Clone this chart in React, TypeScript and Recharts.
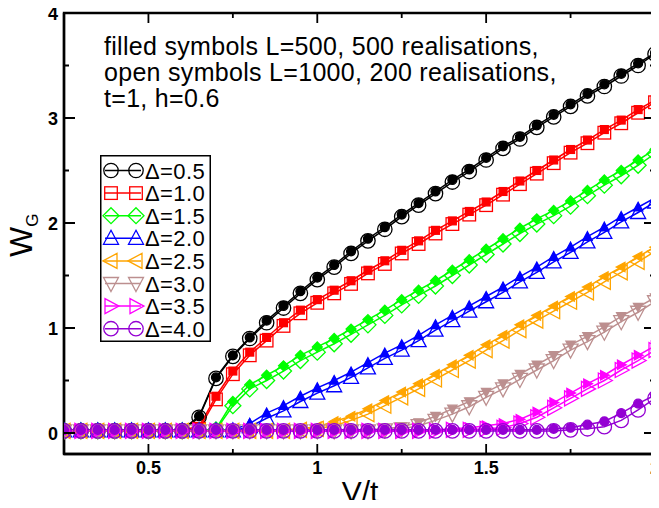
import React from 'react';
import { Customized, Legend, Line, LineChart, ReferenceArea, XAxis, YAxis } from 'recharts';

// V/t grid
const vt = [
  0.25, 0.3, 0.35, 0.4, 0.45, 0.5, 0.55, 0.6, 0.65, 0.7, 0.75, 0.8, 0.85, 0.9, 0.95, 1.0, 1.05, 1.1,
  1.15, 1.2, 1.25, 1.3, 1.35, 1.4, 1.45, 1.5, 1.55, 1.6, 1.65, 1.7, 1.75, 1.8, 1.85, 1.9, 1.95, 2.0,
];

// filled symbols: L=500 ; open symbols: L=1000
const d05Filled = [
  0.02, 0.02, 0.02, 0.02, 0.02, 0.02, 0.02, 0.03, 0.16, 0.53, 0.74, 0.91, 1.07, 1.21, 1.35, 1.48, 1.6, 1.73,
  1.85, 1.96, 2.08, 2.19, 2.3, 2.41, 2.51, 2.62, 2.73, 2.82, 2.93, 3.03, 3.13, 3.23, 3.32, 3.42, 3.52, 3.62,
];
const d05Open = [
  0.02, 0.02, 0.02, 0.02, 0.02, 0.02, 0.02, 0.02, 0.15, 0.52, 0.73, 0.9, 1.05, 1.19, 1.33, 1.46, 1.58, 1.71,
  1.83, 1.94, 2.06, 2.17, 2.28, 2.39, 2.49, 2.6, 2.71, 2.8, 2.91, 3.01, 3.11, 3.21, 3.3, 3.4, 3.5, 3.61,
];
const d10Filled = [
  0.02, 0.02, 0.02, 0.02, 0.02, 0.02, 0.02, 0.03, 0.06, 0.35, 0.59, 0.77, 0.91, 1.05, 1.17, 1.27, 1.36, 1.45,
  1.55, 1.64, 1.74, 1.83, 1.93, 2.02, 2.11, 2.2, 2.3, 2.4, 2.5, 2.6, 2.7, 2.79, 2.89, 2.98, 3.08, 3.17,
];
const d10Open = [
  0.02, 0.02, 0.02, 0.02, 0.02, 0.02, 0.02, 0.02, 0.04, 0.32, 0.56, 0.74, 0.88, 1.02, 1.14, 1.24, 1.33, 1.42,
  1.52, 1.61, 1.71, 1.8, 1.9, 1.99, 2.08, 2.17, 2.27, 2.37, 2.47, 2.57, 2.67, 2.76, 2.86, 2.95, 3.05, 3.15,
];
const d15Filled = [
  0.02, 0.02, 0.02, 0.02, 0.02, 0.02, 0.02, 0.02, 0.02, 0.04, 0.3, 0.46, 0.55, 0.64, 0.74, 0.82, 0.9, 0.99,
  1.08, 1.17, 1.27, 1.36, 1.45, 1.55, 1.65, 1.75, 1.85, 1.95, 2.04, 2.12, 2.21, 2.31, 2.41, 2.5, 2.6, 2.7,
];
const d15Open = [
  0.02, 0.02, 0.02, 0.02, 0.02, 0.02, 0.02, 0.02, 0.02, 0.03, 0.26, 0.42, 0.5, 0.59, 0.69, 0.77, 0.85, 0.94,
  1.03, 1.12, 1.22, 1.31, 1.4, 1.5, 1.6, 1.7, 1.8, 1.9, 1.99, 2.07, 2.16, 2.26, 2.36, 2.45, 2.55, 2.66,
];
const d20Filled = [
  0.02, 0.02, 0.02, 0.02, 0.02, 0.02, 0.02, 0.02, 0.02, 0.02, 0.03, 0.09, 0.19, 0.26, 0.35, 0.43, 0.5, 0.58,
  0.67, 0.76, 0.84, 0.93, 1.03, 1.12, 1.21, 1.3, 1.39, 1.49, 1.58, 1.68, 1.77, 1.87, 1.96, 2.06, 2.15, 2.24,
];
const d20Open = [
  0.02, 0.02, 0.02, 0.02, 0.02, 0.02, 0.02, 0.02, 0.02, 0.02, 0.02, 0.06, 0.14, 0.21, 0.3, 0.38, 0.45, 0.53,
  0.62, 0.71, 0.79, 0.88, 0.98, 1.07, 1.16, 1.25, 1.34, 1.44, 1.53, 1.63, 1.72, 1.82, 1.91, 2.01, 2.1, 2.2,
];
const d25Filled = [
  0.02, 0.02, 0.02, 0.02, 0.02, 0.02, 0.02, 0.02, 0.02, 0.02, 0.02, 0.02, 0.02, 0.03, 0.04, 0.06, 0.11, 0.16,
  0.23, 0.31, 0.39, 0.47, 0.56, 0.65, 0.74, 0.84, 0.93, 1.03, 1.12, 1.21, 1.3, 1.39, 1.49, 1.58, 1.68, 1.77,
];
const d25Open = [
  0.02, 0.02, 0.02, 0.02, 0.02, 0.02, 0.02, 0.02, 0.02, 0.02, 0.02, 0.02, 0.02, 0.02, 0.03, 0.04, 0.07, 0.12,
  0.18, 0.26, 0.34, 0.42, 0.51, 0.6, 0.69, 0.79, 0.88, 0.98, 1.07, 1.16, 1.25, 1.34, 1.44, 1.53, 1.63, 1.73,
];
const d30Filled = [
  0.02, 0.02, 0.02, 0.02, 0.02, 0.02, 0.02, 0.02, 0.02, 0.02, 0.02, 0.02, 0.02, 0.02, 0.02, 0.02, 0.02, 0.02,
  0.03, 0.04, 0.06, 0.1, 0.16, 0.23, 0.3, 0.39, 0.47, 0.56, 0.65, 0.74, 0.84, 0.92, 1.01, 1.11, 1.2, 1.29,
];
const d30Open = [
  0.02, 0.02, 0.02, 0.02, 0.02, 0.02, 0.02, 0.02, 0.02, 0.02, 0.02, 0.02, 0.02, 0.02, 0.02, 0.02, 0.02, 0.02,
  0.02, 0.03, 0.04, 0.07, 0.12, 0.18, 0.25, 0.34, 0.42, 0.51, 0.6, 0.69, 0.79, 0.87, 0.96, 1.06, 1.15, 1.25,
];
const d35Filled = [
  0.02, 0.02, 0.02, 0.02, 0.02, 0.02, 0.02, 0.02, 0.02, 0.02, 0.02, 0.02, 0.02, 0.02, 0.02, 0.02, 0.02, 0.02,
  0.02, 0.02, 0.02, 0.02, 0.03, 0.04, 0.05, 0.07, 0.09, 0.13, 0.2, 0.29, 0.38, 0.47, 0.55, 0.65, 0.74, 0.83,
];
const d35Open = [
  0.02, 0.02, 0.02, 0.02, 0.02, 0.02, 0.02, 0.02, 0.02, 0.02, 0.02, 0.02, 0.02, 0.02, 0.02, 0.02, 0.02, 0.02,
  0.02, 0.02, 0.02, 0.02, 0.02, 0.03, 0.03, 0.04, 0.05, 0.09, 0.15, 0.24, 0.33, 0.42, 0.5, 0.6, 0.69, 0.79,
];
const d40Filled = [
  0.03, 0.03, 0.03, 0.03, 0.03, 0.03, 0.03, 0.03, 0.03, 0.03, 0.03, 0.03, 0.03, 0.03, 0.03, 0.03, 0.03, 0.03,
  0.03, 0.03, 0.03, 0.03, 0.03, 0.03, 0.03, 0.03, 0.03, 0.03, 0.03, 0.04, 0.05, 0.08, 0.11, 0.19, 0.28, 0.36,
];
const d40Open = [
  0.02, 0.02, 0.02, 0.02, 0.02, 0.02, 0.02, 0.02, 0.02, 0.02, 0.02, 0.02, 0.02, 0.02, 0.02, 0.02, 0.02, 0.02,
  0.02, 0.02, 0.02, 0.02, 0.02, 0.02, 0.02, 0.02, 0.02, 0.02, 0.02, 0.02, 0.03, 0.04, 0.06, 0.12, 0.22, 0.33,
];

const xTicks = [0.5, 0.75, 1, 1.25, 1.5, 1.75, 2];
const xMajor = [0.5, 1, 1.5, 2];
const yTicks = [0, 0.5, 1, 1.5, 2, 2.5, 3, 3.5, 4];
const yMajor = [0, 1, 2, 3, 4];

const notes = ['filled symbols L=500, 500 realisations,', 'open symbols L=1000, 200 realisations,', 't=1, h=0.6'];

type Shape = 'circle' | 'square' | 'diamond' | 'up' | 'left' | 'down' | 'right';

const series: { id: string; label: string; color: string; shape: Shape; filled: number[]; open: number[] }[] = [
  { id: 'd05', label: 'Δ=0.5', color: '#000000', shape: 'circle', filled: d05Filled, open: d05Open },
  { id: 'd10', label: 'Δ=1.0', color: '#ff0000', shape: 'square', filled: d10Filled, open: d10Open },
  { id: 'd15', label: 'Δ=1.5', color: '#00ff00', shape: 'diamond', filled: d15Filled, open: d15Open },
  { id: 'd20', label: 'Δ=2.0', color: '#0000ff', shape: 'up', filled: d20Filled, open: d20Open },
  { id: 'd25', label: 'Δ=2.5', color: '#ffa500', shape: 'left', filled: d25Filled, open: d25Open },
  { id: 'd30', label: 'Δ=3.0', color: '#bc8f8f', shape: 'down', filled: d30Filled, open: d30Open },
  { id: 'd35', label: 'Δ=3.5', color: '#ff00ff', shape: 'right', filled: d35Filled, open: d35Open },
  { id: 'd40', label: 'Δ=4.0', color: '#9400d3', shape: 'circle', filled: d40Filled, open: d40Open },
];

const data = vt.map((v, i) => {
  const row: Record<string, number> = { vt: v };
  series.forEach((s) => {
    row[`${s.id}f`] = s.filled[i];
    row[`${s.id}o`] = s.open[i];
  });
  return row;
});

const FONT = '"Liberation Sans", Arial, sans-serif';
// plot frame (chart pixels)
const PLOT_TOP = 13;
const PLOT_RIGHT = 655;

const Marker = ({ shape, cx, cy, color, filled }: { shape: Shape; cx: number; cy: number; color: string; filled: boolean }) => {
  const s = filled ? 0.62 : 1;
  const p = { stroke: color, strokeWidth: 1.3, fill: filled ? color : 'none' };
  const pts = (arr: number[][]) => arr.map(([dx, dy]) => `${cx + dx * s},${cy + dy * s}`).join(' ');
  switch (shape) {
    case 'circle':
      return <circle cx={cx} cy={cy} r={7.2 * s} {...p} />;
    case 'square':
      return <rect x={cx - 6.3 * s} y={cy - 6.3 * s} width={12.6 * s} height={12.6 * s} {...p} />;
    case 'diamond':
      return <polygon points={pts([[0, -8], [8, 0], [0, 8], [-8, 0]])} {...p} />;
    case 'up':
      return <polygon points={pts([[0, -8], [7.5, 6], [-7.5, 6]])} {...p} />;
    case 'down':
      return <polygon points={pts([[0, 8], [7.5, -6], [-7.5, -6]])} {...p} />;
    case 'left':
      return <polygon points={pts([[-8, 0], [6, -7.5], [6, 7.5]])} {...p} />;
    case 'right':
    default:
      return <polygon points={pts([[8, 0], [-6, -7.5], [-6, 7.5]])} {...p} />;
  }
};

const makeDot = (shape: Shape, color: string, filled: boolean) => (props: any) => {
  const { cx, cy, index } = props;
  if (cx == null || cy == null) return <g key={index} />;
  return <Marker key={index} shape={shape} cx={cx} cy={cy} color={color} filled={filled} />;
};

const isIn = (list: number[], v: number) => list.some((m) => Math.abs(m - v) < 1e-6);

// bottom ticks (inward), mirrored on the top edge
const BottomTick = ({ x, y, payload }: any) => {
  const major = isIn(xMajor, payload.value);
  const len = major ? 10 : 5;
  const cx = Number(x);
  const base = Number(y);
  return (
    <g>
      <path d={`M${cx},${base}V${base - len}M${cx},${PLOT_TOP}V${PLOT_TOP + len}`} stroke="#000" strokeWidth={1.8} fill="none" />
      {major && (
        <text x={cx} y={base + 20} textAnchor="middle" fontSize={18} fontWeight="bold" fontFamily={FONT} fill="#000">
          {String(payload.value)}
        </text>
      )}
    </g>
  );
};

// left ticks (inward), mirrored on the right edge
const LeftTick = ({ x, y, payload }: any) => {
  const major = isIn(yMajor, payload.value);
  const cy = Number(y);
  const base = Number(x);
  const len = major ? 11 : 5;
  return (
    <g>
      <path d={`M${base},${cy}H${base + len}M${PLOT_RIGHT},${cy}H${PLOT_RIGHT - len}`} stroke="#000" strokeWidth={1.8} fill="none" />
      {major && (
        <text x={base - 6} y={cy + 6.5} textAnchor="end" fontSize={18} fontWeight="bold" fontFamily={FONT} fill="#000">
          {String(payload.value)}
        </text>
      )}
    </g>
  );
};

const Notes = () => (
  <g>
    {notes.map((t, i) => (
      <text key={t} x={104} y={55 + i * 26} fontSize={25} letterSpacing={0.3} fontFamily={FONT} fill="#000">
        {t}
      </text>
    ))}
  </g>
);

const LegendBox = () => (
  <svg width={111} height={187} style={{ display: 'block' }}>
    <rect x={0.75} y={0.75} width={109.5} height={185.5} fill="#fff" stroke="#000" strokeWidth={1.5} />
    {series.map((s, i) => {
      const cy = 15.5 + i * 22.6;
      return (
        <g key={s.id}>
          <line x1={5} y1={cy} x2={41} y2={cy} stroke={s.color} strokeWidth={1.5} />
          <Marker shape={s.shape} cx={11} cy={cy} color={s.color} filled={false} />
          <Marker shape={s.shape} cx={36} cy={cy} color={s.color} filled={false} />
          <text x={45} y={cy + 8} fontSize={22} letterSpacing={0.4} fontFamily={FONT} fill="#000">
            {s.label}
          </text>
        </g>
      );
    })}
  </svg>
);

export default function App() {
  return (
    <div style={{ width: 659, height: 508, margin: '-8px 0 -8px -8px', position: 'relative' }}>
      <LineChart width={659} height={508} data={data} margin={{ top: 13, right: 4, bottom: 0, left: 0 }}>
        <XAxis
          dataKey="vt"
          type="number"
          domain={[0.25, 2]}
          ticks={xTicks}
          interval={0}
          allowDataOverflow
          height={54}
          tickLine={false}
          tickSize={0}
          tickMargin={0}
          axisLine={{ stroke: '#000', strokeWidth: 2.4 }}
          tick={BottomTick}
          label={{
            content: () => (
              <text x={360} y={502} textAnchor="middle" fontSize={30} fontFamily={FONT} fill="#000">
                V/t
              </text>
            ),
          }}
        />
        <YAxis
          type="number"
          domain={[-0.2, 4]}
          ticks={yTicks}
          interval={0}
          allowDataOverflow
          width={64}
          tickLine={false}
          tickSize={0}
          tickMargin={0}
          axisLine={{ stroke: '#000', strokeWidth: 2.4 }}
          tick={LeftTick}
          label={{
            content: () => (
              <text x={32} y={257} transform="rotate(-90, 32, 257)" fontSize={32} fontFamily={FONT} fill="#000">
                W
                <tspan fontSize={17} dy={6}>
                  G
                </tspan>
              </text>
            ),
          }}
        />
        <Legend
          layout="vertical"
          align="center"
          verticalAlign="middle"
          wrapperStyle={{ position: 'absolute', left: 100, top: 155, width: 111, height: 187 }}
          content={() => <LegendBox />}
        />
        <Customized component={Notes} />
        {series.flatMap((s) => [
          <Line
            key={`${s.id}f`}
            dataKey={`${s.id}f`}
            name={`${s.label} L=500`}
            stroke={s.color}
            strokeWidth={1.5}
            dot={makeDot(s.shape, s.color, true)}
            legendType="none"
            isAnimationActive={false}
          />,
          <Line
            key={`${s.id}o`}
            dataKey={`${s.id}o`}
            name={`${s.label} L=1000`}
            stroke={s.color}
            strokeWidth={1.5}
            dot={makeDot(s.shape, s.color, false)}
            legendType="none"
            isAnimationActive={false}
          />,
        ])}
        {/* plot frame on top of everything */}
        <ReferenceArea x1={0.25} x2={2} y1={-0.2} y2={4} fill="none" stroke="#000" strokeWidth={2.4} ifOverflow="visible" />
      </LineChart>
    </div>
  );
}
